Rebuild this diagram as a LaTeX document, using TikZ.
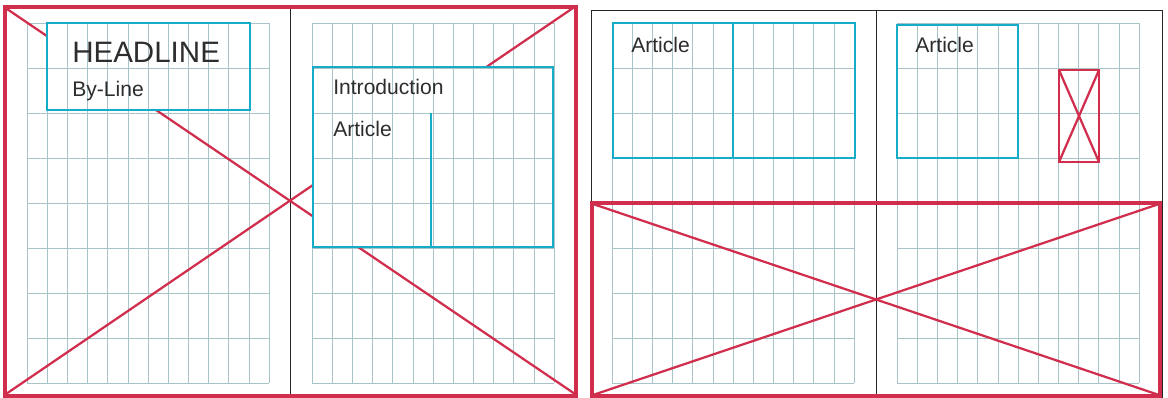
\documentclass[tikz,border=0pt]{standalone}
\usepackage{fontspec}
\setmainfont{Liberation Sans}
\definecolor{pencilred}{RGB}{208,46,76}
\definecolor{pencilcyan}{RGB}{22,172,200}
\definecolor{gridcol}{RGB}{168,196,200}
\definecolor{inkcol}{RGB}{45,45,45}
\newcommand\pagegrid[1]{%
  \foreach \i in {0,...,12}{\draw[gridline] ({#1+\i*20.17},23) -- ({#1+\i*20.17},383);}
  \foreach \j in {0,...,8}{\draw[gridline] (#1,{23+\j*45}) -- ({#1+242},{23+\j*45});}%
}
\begin{document}
\begin{tikzpicture}[x=0.025cm,y=-0.025cm,
  gridline/.style={draw=gridcol,line width=0.5pt},
  fold/.style={draw=black!85,line width=0.7pt},
  redframe/.style={draw=pencilred,line width=2.2pt},
  redline/.style={draw=pencilred,line width=1.6pt},
  cyanbox/.style={draw=pencilcyan,line width=1.8pt},
  hand/.style={inner sep=0pt,anchor=base west,text=inkcol,font=\fontsize{15}{18}\selectfont},
  headfont/.style={inner sep=0pt,anchor=base west,text=inkcol,font=\fontsize{21}{25}\selectfont}]
\useasboundingbox[fill=white] (0,0) rectangle (1168,398);
% ---------- spread 1 ----------
\pagegrid{27}
\pagegrid{312}
\draw[fold] (5,7) rectangle (576,396);
\draw[fold] (290,7) -- (290,396);
\coordinate (s1tl) at (7,9);
\coordinate (s1br) at (575,394);
\coordinate (s1bl) at (6,394);
\coordinate (s1tr) at (573,8);
\draw[redline] (s1tl) -- (s1br);
\draw[redline] (s1bl) -- (s1tr);
\draw[redframe] (5,7) rectangle (576,396);
% boxes occluding the red lines
\fill[white] (47,23) rectangle (250,110);
\fill[white] (313,67) rectangle (553,247);
\begin{scope}
  \clip (47,23) rectangle (250,110) (313,67) rectangle (553,247);
  \pagegrid{27}
  \pagegrid{312}
\end{scope}
\draw[cyanbox] (47,23) rectangle (250,110);
\draw[cyanbox] (313,67) rectangle (553,247);
\draw[cyanbox] (431,113) -- (431,247);
\node[headfont] (headline) at (72,63) {HEADLINE};
\node[hand] (byline) at (72,97) {By-Line};
\node[hand] (intro) at (333,95) {Introduction};
\node[hand] (art1) at (333,137) {Article};
% ---------- spread 2 ----------
\pagegrid{612}
\pagegrid{897}
\draw[fold] (591,10) rectangle (1162,397);
\draw[fold] (876,10) -- (876,397);
\draw[cyanbox] (613,23) rectangle (855,158);
\draw[cyanbox] (733,23) -- (733,158);
\draw[cyanbox] (897,25) rectangle (1018,158);
\node[hand] (art2) at (631,53) {Article};
\node[hand] (art3) at (915,53) {Article};
\draw[redline] (1059,70) rectangle (1099,162);
\draw[redline] (1059,70) -- (1099,162);
\draw[redline] (1059,162) -- (1099,70);
\coordinate (s2tl) at (593,204);
\coordinate (s2br) at (1159,395);
\coordinate (s2bl) at (593,395);
\coordinate (s2tr) at (1159,204);
\draw[redline] (s2tl) -- (s2br);
\draw[redline] (s2bl) -- (s2tr);
\draw[redframe] (592,203) rectangle (1160,396);
\end{tikzpicture}
\end{document}
